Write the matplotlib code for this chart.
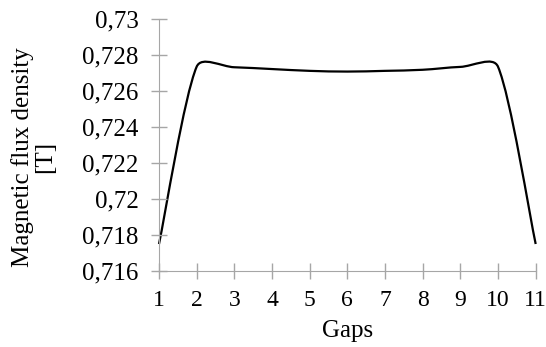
import matplotlib.pyplot as plt
import numpy as np
from matplotlib.path import Path
from matplotlib.patches import PathPatch

# values
gaps = [1, 2, 3, 4, 5, 6, 7, 8, 9, 10, 11]
flux = [0.7175, 0.72735, 0.72732, 0.72722, 0.72712, 0.72708,
        0.72712, 0.72718, 0.72734, 0.72735, 0.7175]
y_ticks = [0.716, 0.718, 0.72, 0.722, 0.724, 0.726, 0.728, 0.73]
y_labels = ['0,716', '0,718', '0,72', '0,722', '0,724', '0,726', '0,728', '0,73']

plt.rcParams['font.family'] = 'Liberation Serif'
fig = plt.figure(figsize=(5.46, 3.47), dpi=100)
ax = fig.add_axes([0.2912, 0.2190, 0.6899, 0.7262])
ax.set_xlim(1, 11)
ax.set_ylim(0.716, 0.73)


def smooth_path(ax, x, y, tension=1/6, limit=0.33):
    # Excel-style smoothed line: cubic bezier per segment, built in pixel space
    p = ax.transData.transform(np.column_stack([x, y]))
    n = len(p)
    verts = [p[0]]
    codes = [Path.MOVETO]
    for i in range(n - 1):
        p0 = p[i - 1] if i > 0 else p[i]
        p1, p2 = p[i], p[i + 1]
        p3 = p[i + 2] if i + 2 < n else p[i + 1]
        seg = np.hypot(*(p2 - p1))
        t1 = (p2 - p0) * tension
        t2 = (p3 - p1) * tension
        l1, l2 = np.hypot(*t1), np.hypot(*t2)
        if l1 > seg * limit:
            t1 = t1 * seg * limit / l1
        if l2 > seg * limit:
            t2 = t2 * seg * limit / l2
        verts += [p1 + t1, p2 - t2, p2]
        codes += [Path.CURVE4] * 3
    verts = ax.transData.inverted().transform(np.array(verts))
    return Path(verts, codes)


ax.add_patch(PathPatch(smooth_path(ax, gaps, flux), facecolor='none',
                       edgecolor='black', lw=1.6, clip_on=False))

for s in ['top', 'right']:
    ax.spines[s].set_visible(False)
for s in ['left', 'bottom']:
    ax.spines[s].set_color('#a6a6a6')

ax.set_xticks(gaps)
ax.set_yticks(y_ticks)
ax.set_yticklabels(y_labels)
ax.tick_params(direction='inout', length=11, width=1, color='#a6a6a6',
               labelsize=18)
ax.tick_params(axis='y', pad=9)
ax.tick_params(axis='x', pad=8, labelsize=17)

ax.set_xlabel('Gaps', fontsize=18, labelpad=7)
fig.text(0.062, 0.548, 'Magnetic flux density\n[T]', rotation=90,
         ha='center', va='center', multialignment='center', fontsize=18,
         linespacing=1.0)

fig.savefig('out.png', dpi=100)
